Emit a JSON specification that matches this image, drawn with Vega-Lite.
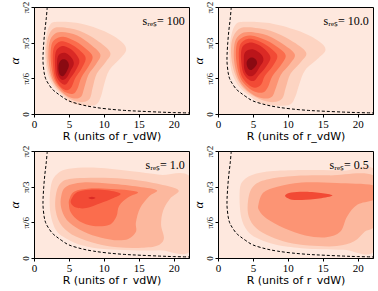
{
 "$schema": "https://vega.github.io/schema/vega-lite/v6.json",
 "padding": {"left": 7, "top": 0, "right": 0, "bottom": 0},
 "background": "white",
 "datasets": {"all": [
  {"p":"a","g":"c","l":1,"i":1,"x":1.7,"y":63},{"p":"a","g":"c","l":1,"i":2,"x":2.3,"y":75},{"p":"a","g":"c","l":1,"i":3,"x":3.5,"y":77.5},{"p":"a","g":"c","l":1,"i":4,"x":6.8,"y":76},{"p":"a","g":"c","l":1,"i":5,"x":10.1,"y":69.5},{"p":"a","g":"c","l":1,"i":6,"x":12.5,"y":61},{"p":"a","g":"c","l":1,"i":7,"x":13.2,"y":54},{"p":"a","g":"c","l":1,"i":8,"x":12.4,"y":47},{"p":"a","g":"c","l":1,"i":9,"x":10.8,"y":37},{"p":"a","g":"c","l":1,"i":10,"x":10.1,"y":26},{"p":"a","g":"c","l":1,"i":11,"x":9.6,"y":15},{"p":"a","g":"c","l":1,"i":12,"x":8.9,"y":8},{"p":"a","g":"c","l":1,"i":13,"x":7.2,"y":7},{"p":"a","g":"c","l":1,"i":14,"x":5.3,"y":9.5},{"p":"a","g":"c","l":1,"i":15,"x":4.1,"y":15.5},{"p":"a","g":"c","l":1,"i":16,"x":2.9,"y":22.5},{"p":"a","g":"c","l":1,"i":17,"x":2.0,"y":33},{"p":"a","g":"c","l":1,"i":18,"x":1.6,"y":48},
  {"p":"a","g":"c","l":2,"i":1,"x":1.9,"y":62},{"p":"a","g":"c","l":2,"i":2,"x":2.6,"y":71},{"p":"a","g":"c","l":2,"i":3,"x":3.8,"y":73},{"p":"a","g":"c","l":2,"i":4,"x":6.5,"y":70},{"p":"a","g":"c","l":2,"i":5,"x":9.0,"y":62},{"p":"a","g":"c","l":2,"i":6,"x":10.9,"y":52},{"p":"a","g":"c","l":2,"i":7,"x":10.3,"y":44},{"p":"a","g":"c","l":2,"i":8,"x":9.0,"y":34},{"p":"a","g":"c","l":2,"i":9,"x":8.4,"y":22},{"p":"a","g":"c","l":2,"i":10,"x":8.0,"y":13},{"p":"a","g":"c","l":2,"i":11,"x":7.0,"y":10},{"p":"a","g":"c","l":2,"i":12,"x":5.4,"y":12},{"p":"a","g":"c","l":2,"i":13,"x":4.1,"y":17},{"p":"a","g":"c","l":2,"i":14,"x":3.0,"y":24},{"p":"a","g":"c","l":2,"i":15,"x":2.2,"y":34},{"p":"a","g":"c","l":2,"i":16,"x":1.8,"y":48},
  {"p":"a","g":"c","l":3,"i":1,"x":2.2,"y":60},{"p":"a","g":"c","l":3,"i":2,"x":2.9,"y":67},{"p":"a","g":"c","l":3,"i":3,"x":4.0,"y":69},{"p":"a","g":"c","l":3,"i":4,"x":6.2,"y":66},{"p":"a","g":"c","l":3,"i":5,"x":8.2,"y":58},{"p":"a","g":"c","l":3,"i":6,"x":9.5,"y":50},{"p":"a","g":"c","l":3,"i":7,"x":8.9,"y":42},{"p":"a","g":"c","l":3,"i":8,"x":7.8,"y":33},{"p":"a","g":"c","l":3,"i":9,"x":7.2,"y":22},{"p":"a","g":"c","l":3,"i":10,"x":6.8,"y":15},{"p":"a","g":"c","l":3,"i":11,"x":6.0,"y":13},{"p":"a","g":"c","l":3,"i":12,"x":4.8,"y":15},{"p":"a","g":"c","l":3,"i":13,"x":3.6,"y":21},{"p":"a","g":"c","l":3,"i":14,"x":2.6,"y":30},{"p":"a","g":"c","l":3,"i":15,"x":2.1,"y":45},
  {"p":"a","g":"c","l":4,"i":1,"x":2.5,"y":58},{"p":"a","g":"c","l":4,"i":2,"x":3.1,"y":63},{"p":"a","g":"c","l":4,"i":3,"x":4.2,"y":65},{"p":"a","g":"c","l":4,"i":4,"x":6.0,"y":61},{"p":"a","g":"c","l":4,"i":5,"x":7.6,"y":54},{"p":"a","g":"c","l":4,"i":6,"x":8.4,"y":48},{"p":"a","g":"c","l":4,"i":7,"x":7.8,"y":40},{"p":"a","g":"c","l":4,"i":8,"x":6.8,"y":31},{"p":"a","g":"c","l":4,"i":9,"x":6.2,"y":21},{"p":"a","g":"c","l":4,"i":10,"x":5.6,"y":17},{"p":"a","g":"c","l":4,"i":11,"x":4.6,"y":18},{"p":"a","g":"c","l":4,"i":12,"x":3.6,"y":23},{"p":"a","g":"c","l":4,"i":13,"x":2.8,"y":31},{"p":"a","g":"c","l":4,"i":14,"x":2.4,"y":45},
  {"p":"a","g":"c","l":5,"i":1,"x":2.8,"y":55},{"p":"a","g":"c","l":5,"i":2,"x":3.4,"y":60},{"p":"a","g":"c","l":5,"i":3,"x":4.3,"y":61},{"p":"a","g":"c","l":5,"i":4,"x":5.8,"y":57},{"p":"a","g":"c","l":5,"i":5,"x":7.0,"y":51},{"p":"a","g":"c","l":5,"i":6,"x":7.4,"y":46},{"p":"a","g":"c","l":5,"i":7,"x":6.8,"y":38},{"p":"a","g":"c","l":5,"i":8,"x":5.9,"y":30},{"p":"a","g":"c","l":5,"i":9,"x":5.4,"y":23},{"p":"a","g":"c","l":5,"i":10,"x":4.7,"y":20},{"p":"a","g":"c","l":5,"i":11,"x":3.8,"y":23},{"p":"a","g":"c","l":5,"i":12,"x":3.0,"y":31},{"p":"a","g":"c","l":5,"i":13,"x":2.7,"y":44},
  {"p":"a","g":"c","l":6,"i":1,"x":3.1,"y":52},{"p":"a","g":"c","l":6,"i":2,"x":3.6,"y":56},{"p":"a","g":"c","l":6,"i":3,"x":4.4,"y":57},{"p":"a","g":"c","l":6,"i":4,"x":5.6,"y":53},{"p":"a","g":"c","l":6,"i":5,"x":6.5,"y":45},{"p":"a","g":"c","l":6,"i":6,"x":6.0,"y":37},{"p":"a","g":"c","l":6,"i":7,"x":5.2,"y":30},{"p":"a","g":"c","l":6,"i":8,"x":4.6,"y":25},{"p":"a","g":"c","l":6,"i":9,"x":3.9,"y":26},{"p":"a","g":"c","l":6,"i":10,"x":3.2,"y":32},{"p":"a","g":"c","l":6,"i":11,"x":3.0,"y":43},
  {"p":"a","g":"c","l":7,"i":1,"x":3.4,"y":48},{"p":"a","g":"c","l":7,"i":2,"x":3.9,"y":51},{"p":"a","g":"c","l":7,"i":3,"x":4.6,"y":51},{"p":"a","g":"c","l":7,"i":4,"x":5.4,"y":47},{"p":"a","g":"c","l":7,"i":5,"x":5.7,"y":42},{"p":"a","g":"c","l":7,"i":6,"x":5.2,"y":36},{"p":"a","g":"c","l":7,"i":7,"x":4.6,"y":30},{"p":"a","g":"c","l":7,"i":8,"x":3.9,"y":29},{"p":"a","g":"c","l":7,"i":9,"x":3.4,"y":34},{"p":"a","g":"c","l":7,"i":10,"x":3.3,"y":42},
  {"p":"a","g":"c","l":8,"i":1,"x":3.6,"y":43},{"p":"a","g":"c","l":8,"i":2,"x":4.1,"y":46},{"p":"a","g":"c","l":8,"i":3,"x":4.7,"y":45},{"p":"a","g":"c","l":8,"i":4,"x":5.0,"y":41},{"p":"a","g":"c","l":8,"i":5,"x":4.7,"y":36},{"p":"a","g":"c","l":8,"i":6,"x":4.2,"y":32},{"p":"a","g":"c","l":8,"i":7,"x":3.7,"y":33},{"p":"a","g":"c","l":8,"i":8,"x":3.5,"y":38},

  {"p":"b","g":"c","l":1,"i":1,"x":1.8,"y":63},{"p":"b","g":"c","l":1,"i":2,"x":2.5,"y":75},{"p":"b","g":"c","l":1,"i":3,"x":3.9,"y":77.5},{"p":"b","g":"c","l":1,"i":4,"x":7.8,"y":76},{"p":"b","g":"c","l":1,"i":5,"x":11.7,"y":69.5},{"p":"b","g":"c","l":1,"i":6,"x":14.5,"y":61},{"p":"b","g":"c","l":1,"i":7,"x":15.4,"y":54},{"p":"b","g":"c","l":1,"i":8,"x":14.4,"y":47},{"p":"b","g":"c","l":1,"i":9,"x":12.5,"y":37},{"p":"b","g":"c","l":1,"i":10,"x":11.7,"y":26},{"p":"b","g":"c","l":1,"i":11,"x":11.1,"y":15},{"p":"b","g":"c","l":1,"i":12,"x":10.3,"y":8},{"p":"b","g":"c","l":1,"i":13,"x":8.3,"y":7},{"p":"b","g":"c","l":1,"i":14,"x":6.0,"y":9.5},{"p":"b","g":"c","l":1,"i":15,"x":4.5,"y":15.5},{"p":"b","g":"c","l":1,"i":16,"x":3.1,"y":22.5},{"p":"b","g":"c","l":1,"i":17,"x":2.1,"y":33},{"p":"b","g":"c","l":1,"i":18,"x":1.65,"y":48},
  {"p":"b","g":"c","l":2,"i":1,"x":2.0,"y":62},{"p":"b","g":"c","l":2,"i":2,"x":2.9,"y":71},{"p":"b","g":"c","l":2,"i":3,"x":4.3,"y":73},{"p":"b","g":"c","l":2,"i":4,"x":7.5,"y":70},{"p":"b","g":"c","l":2,"i":5,"x":10.4,"y":62},{"p":"b","g":"c","l":2,"i":6,"x":12.6,"y":52},{"p":"b","g":"c","l":2,"i":7,"x":11.9,"y":44},{"p":"b","g":"c","l":2,"i":8,"x":10.4,"y":34},{"p":"b","g":"c","l":2,"i":9,"x":9.7,"y":22},{"p":"b","g":"c","l":2,"i":10,"x":9.2,"y":13},{"p":"b","g":"c","l":2,"i":11,"x":8.0,"y":10},{"p":"b","g":"c","l":2,"i":12,"x":6.2,"y":12},{"p":"b","g":"c","l":2,"i":13,"x":4.6,"y":17},{"p":"b","g":"c","l":2,"i":14,"x":3.3,"y":24},{"p":"b","g":"c","l":2,"i":15,"x":2.4,"y":34},{"p":"b","g":"c","l":2,"i":16,"x":1.9,"y":48},
  {"p":"b","g":"c","l":3,"i":1,"x":2.4,"y":60},{"p":"b","g":"c","l":3,"i":2,"x":3.2,"y":67},{"p":"b","g":"c","l":3,"i":3,"x":4.5,"y":69},{"p":"b","g":"c","l":3,"i":4,"x":7.1,"y":66},{"p":"b","g":"c","l":3,"i":5,"x":9.5,"y":58},{"p":"b","g":"c","l":3,"i":6,"x":11.0,"y":50},{"p":"b","g":"c","l":3,"i":7,"x":10.3,"y":42},{"p":"b","g":"c","l":3,"i":8,"x":9.0,"y":33},{"p":"b","g":"c","l":3,"i":9,"x":8.3,"y":22},{"p":"b","g":"c","l":3,"i":10,"x":7.8,"y":15},{"p":"b","g":"c","l":3,"i":11,"x":6.9,"y":13},{"p":"b","g":"c","l":3,"i":12,"x":5.4,"y":15},{"p":"b","g":"c","l":3,"i":13,"x":4.0,"y":21},{"p":"b","g":"c","l":3,"i":14,"x":2.9,"y":30},{"p":"b","g":"c","l":3,"i":15,"x":2.3,"y":45},
  {"p":"b","g":"c","l":4,"i":1,"x":2.7,"y":59},{"p":"b","g":"c","l":4,"i":2,"x":3.4,"y":64},{"p":"b","g":"c","l":4,"i":3,"x":4.7,"y":66},{"p":"b","g":"c","l":4,"i":4,"x":6.9,"y":62},{"p":"b","g":"c","l":4,"i":5,"x":8.8,"y":55},{"p":"b","g":"c","l":4,"i":6,"x":9.7,"y":49},{"p":"b","g":"c","l":4,"i":7,"x":9.0,"y":41},{"p":"b","g":"c","l":4,"i":8,"x":7.8,"y":32},{"p":"b","g":"c","l":4,"i":9,"x":7.1,"y":22},{"p":"b","g":"c","l":4,"i":10,"x":6.4,"y":18},{"p":"b","g":"c","l":4,"i":11,"x":5.2,"y":19},{"p":"b","g":"c","l":4,"i":12,"x":4.0,"y":24},{"p":"b","g":"c","l":4,"i":13,"x":3.1,"y":32},{"p":"b","g":"c","l":4,"i":14,"x":2.6,"y":46},
  {"p":"b","g":"c","l":5,"i":1,"x":3.1,"y":57},{"p":"b","g":"c","l":5,"i":2,"x":3.8,"y":62},{"p":"b","g":"c","l":5,"i":3,"x":4.9,"y":63},{"p":"b","g":"c","l":5,"i":4,"x":6.6,"y":59},{"p":"b","g":"c","l":5,"i":5,"x":8.0,"y":53},{"p":"b","g":"c","l":5,"i":6,"x":8.5,"y":48},{"p":"b","g":"c","l":5,"i":7,"x":7.8,"y":40},{"p":"b","g":"c","l":5,"i":8,"x":6.7,"y":32},{"p":"b","g":"c","l":5,"i":9,"x":6.2,"y":25},{"p":"b","g":"c","l":5,"i":10,"x":5.3,"y":22},{"p":"b","g":"c","l":5,"i":11,"x":4.3,"y":25},{"p":"b","g":"c","l":5,"i":12,"x":3.3,"y":33},{"p":"b","g":"c","l":5,"i":13,"x":3.0,"y":46},
  {"p":"b","g":"c","l":6,"i":1,"x":3.4,"y":55},{"p":"b","g":"c","l":6,"i":2,"x":4.0,"y":59},{"p":"b","g":"c","l":6,"i":3,"x":5.0,"y":60},{"p":"b","g":"c","l":6,"i":4,"x":6.4,"y":56},{"p":"b","g":"c","l":6,"i":5,"x":7.5,"y":48},{"p":"b","g":"c","l":6,"i":6,"x":6.9,"y":40},{"p":"b","g":"c","l":6,"i":7,"x":5.9,"y":33},{"p":"b","g":"c","l":6,"i":8,"x":5.2,"y":28},{"p":"b","g":"c","l":6,"i":9,"x":4.4,"y":29},{"p":"b","g":"c","l":6,"i":10,"x":3.6,"y":35},{"p":"b","g":"c","l":6,"i":11,"x":3.3,"y":46},
  {"p":"b","g":"c","l":7,"i":1,"x":3.8,"y":51},{"p":"b","g":"c","l":7,"i":2,"x":4.4,"y":54},{"p":"b","g":"c","l":7,"i":3,"x":5.2,"y":54},{"p":"b","g":"c","l":7,"i":4,"x":6.2,"y":50},{"p":"b","g":"c","l":7,"i":5,"x":6.5,"y":45},{"p":"b","g":"c","l":7,"i":6,"x":5.9,"y":39},{"p":"b","g":"c","l":7,"i":7,"x":5.2,"y":33},{"p":"b","g":"c","l":7,"i":8,"x":4.4,"y":32},{"p":"b","g":"c","l":7,"i":9,"x":3.8,"y":37},{"p":"b","g":"c","l":7,"i":10,"x":3.7,"y":45},
  {"p":"b","g":"c","l":8,"i":1,"x":4.2,"y":45},{"p":"b","g":"c","l":8,"i":2,"x":4.7,"y":47.5},{"p":"b","g":"c","l":8,"i":3,"x":5.3,"y":46.5},{"p":"b","g":"c","l":8,"i":4,"x":5.6,"y":43},{"p":"b","g":"c","l":8,"i":5,"x":5.2,"y":39},{"p":"b","g":"c","l":8,"i":6,"x":4.7,"y":37},{"p":"b","g":"c","l":8,"i":7,"x":4.3,"y":38.5},{"p":"b","g":"c","l":8,"i":8,"x":4.1,"y":42},

  {"p":"c","g":"c","l":1,"i":1,"x":2.4,"y":60},{"p":"c","g":"c","l":1,"i":2,"x":3.2,"y":70},{"p":"c","g":"c","l":1,"i":3,"x":5,"y":75},{"p":"c","g":"c","l":1,"i":4,"x":9,"y":76},{"p":"c","g":"c","l":1,"i":5,"x":14,"y":73},{"p":"c","g":"c","l":1,"i":6,"x":18,"y":70},{"p":"c","g":"c","l":1,"i":7,"x":22.6,"y":66},{"p":"c","g":"c","l":1,"i":8,"x":22.6,"y":8},{"p":"c","g":"c","l":1,"i":9,"x":18,"y":6.5},{"p":"c","g":"c","l":1,"i":10,"x":14,"y":6.5},{"p":"c","g":"c","l":1,"i":11,"x":10,"y":7.5},{"p":"c","g":"c","l":1,"i":12,"x":7,"y":10.5},{"p":"c","g":"c","l":1,"i":13,"x":4.6,"y":16.5},{"p":"c","g":"c","l":1,"i":14,"x":3.1,"y":24},{"p":"c","g":"c","l":1,"i":15,"x":2.3,"y":40},
  {"p":"c","g":"c","l":2,"i":1,"x":3.2,"y":55},{"p":"c","g":"c","l":2,"i":2,"x":4.0,"y":64},{"p":"c","g":"c","l":2,"i":3,"x":6,"y":67},{"p":"c","g":"c","l":2,"i":4,"x":10,"y":67.5},{"p":"c","g":"c","l":2,"i":5,"x":14,"y":66},{"p":"c","g":"c","l":2,"i":6,"x":18,"y":62},{"p":"c","g":"c","l":2,"i":7,"x":20.7,"y":57},{"p":"c","g":"c","l":2,"i":8,"x":19.5,"y":50},{"p":"c","g":"c","l":2,"i":9,"x":18.5,"y":40},{"p":"c","g":"c","l":2,"i":10,"x":18.2,"y":28},{"p":"c","g":"c","l":2,"i":11,"x":18.6,"y":16},{"p":"c","g":"c","l":2,"i":12,"x":17.5,"y":10},{"p":"c","g":"c","l":2,"i":13,"x":15,"y":8.5},{"p":"c","g":"c","l":2,"i":14,"x":12,"y":9},{"p":"c","g":"c","l":2,"i":15,"x":9,"y":12},{"p":"c","g":"c","l":2,"i":16,"x":6,"y":18},{"p":"c","g":"c","l":2,"i":17,"x":4,"y":27},{"p":"c","g":"c","l":2,"i":18,"x":3.1,"y":40},
  {"p":"c","g":"c","l":3,"i":1,"x":3.9,"y":52},{"p":"c","g":"c","l":3,"i":2,"x":4.6,"y":60},{"p":"c","g":"c","l":3,"i":3,"x":7,"y":63.5},{"p":"c","g":"c","l":3,"i":4,"x":11,"y":62.5},{"p":"c","g":"c","l":3,"i":5,"x":15,"y":60},{"p":"c","g":"c","l":3,"i":6,"x":17.6,"y":57},{"p":"c","g":"c","l":3,"i":7,"x":16.5,"y":52},{"p":"c","g":"c","l":3,"i":8,"x":15.2,"y":42},{"p":"c","g":"c","l":3,"i":9,"x":14.6,"y":30},{"p":"c","g":"c","l":3,"i":10,"x":14.6,"y":22},{"p":"c","g":"c","l":3,"i":11,"x":13.5,"y":16},{"p":"c","g":"c","l":3,"i":12,"x":11.5,"y":15},{"p":"c","g":"c","l":3,"i":13,"x":9,"y":18},{"p":"c","g":"c","l":3,"i":14,"x":6.5,"y":24},{"p":"c","g":"c","l":3,"i":15,"x":4.7,"y":32},{"p":"c","g":"c","l":3,"i":16,"x":3.9,"y":42},
  {"p":"c","g":"c","l":4,"i":1,"x":5.1,"y":50},{"p":"c","g":"c","l":4,"i":2,"x":5.8,"y":56},{"p":"c","g":"c","l":4,"i":3,"x":8,"y":58.5},{"p":"c","g":"c","l":4,"i":4,"x":11,"y":58},{"p":"c","g":"c","l":4,"i":5,"x":13.5,"y":57},{"p":"c","g":"c","l":4,"i":6,"x":14.9,"y":55},{"p":"c","g":"c","l":4,"i":7,"x":13.5,"y":51},{"p":"c","g":"c","l":4,"i":8,"x":12.2,"y":44},{"p":"c","g":"c","l":4,"i":9,"x":11.8,"y":35},{"p":"c","g":"c","l":4,"i":10,"x":10.8,"y":28},{"p":"c","g":"c","l":4,"i":11,"x":8.5,"y":27},{"p":"c","g":"c","l":4,"i":12,"x":6.5,"y":31},{"p":"c","g":"c","l":4,"i":13,"x":5.3,"y":38},{"p":"c","g":"c","l":4,"i":14,"x":5.0,"y":45},
  {"p":"c","g":"c","l":5,"i":1,"x":5.4,"y":50},{"p":"c","g":"c","l":5,"i":2,"x":6.2,"y":55.5},{"p":"c","g":"c","l":5,"i":3,"x":8,"y":57.5},{"p":"c","g":"c","l":5,"i":4,"x":10.5,"y":57},{"p":"c","g":"c","l":5,"i":5,"x":12.4,"y":54},{"p":"c","g":"c","l":5,"i":6,"x":11.2,"y":50},{"p":"c","g":"c","l":5,"i":7,"x":9.5,"y":46},{"p":"c","g":"c","l":5,"i":8,"x":7.5,"y":42},{"p":"c","g":"c","l":5,"i":9,"x":6,"y":42.5},{"p":"c","g":"c","l":5,"i":10,"x":5.3,"y":46},
  {"p":"c","g":"c","l":6,"i":1,"x":7.8,"y":50.5},{"p":"c","g":"c","l":6,"i":2,"x":8.3,"y":51.5},{"p":"c","g":"c","l":6,"i":3,"x":8.8,"y":50.5},{"p":"c","g":"c","l":6,"i":4,"x":8.3,"y":49.5},

  {"p":"d","g":"c","l":1,"i":1,"x":3.1,"y":55},{"p":"d","g":"c","l":1,"i":2,"x":3.6,"y":65},{"p":"d","g":"c","l":1,"i":3,"x":5.5,"y":71},{"p":"d","g":"c","l":1,"i":4,"x":9,"y":73.5},{"p":"d","g":"c","l":1,"i":5,"x":14,"y":74},{"p":"d","g":"c","l":1,"i":6,"x":18,"y":73.5},{"p":"d","g":"c","l":1,"i":7,"x":22.6,"y":72},{"p":"d","g":"c","l":1,"i":8,"x":22.6,"y":8},{"p":"d","g":"c","l":1,"i":9,"x":18,"y":7},{"p":"d","g":"c","l":1,"i":10,"x":14,"y":7.5},{"p":"d","g":"c","l":1,"i":11,"x":10,"y":9.5},{"p":"d","g":"c","l":1,"i":12,"x":7.5,"y":12.5},{"p":"d","g":"c","l":1,"i":13,"x":5.5,"y":17},{"p":"d","g":"c","l":1,"i":14,"x":4.2,"y":23},{"p":"d","g":"c","l":1,"i":15,"x":3.3,"y":35},
  {"p":"d","g":"c","l":2,"i":1,"x":4.3,"y":48},{"p":"d","g":"c","l":2,"i":2,"x":5,"y":60},{"p":"d","g":"c","l":2,"i":3,"x":7,"y":66},{"p":"d","g":"c","l":2,"i":4,"x":11,"y":69},{"p":"d","g":"c","l":2,"i":5,"x":16,"y":69.5},{"p":"d","g":"c","l":2,"i":6,"x":22.6,"y":68},{"p":"d","g":"c","l":2,"i":7,"x":22.6,"y":30},{"p":"d","g":"c","l":2,"i":8,"x":21,"y":22},{"p":"d","g":"c","l":2,"i":9,"x":19.5,"y":14},{"p":"d","g":"c","l":2,"i":10,"x":17,"y":10},{"p":"d","g":"c","l":2,"i":11,"x":13,"y":10.5},{"p":"d","g":"c","l":2,"i":12,"x":10,"y":13},{"p":"d","g":"c","l":2,"i":13,"x":7.5,"y":18},{"p":"d","g":"c","l":2,"i":14,"x":5.5,"y":25},{"p":"d","g":"c","l":2,"i":15,"x":4.4,"y":35},
  {"p":"d","g":"c","l":3,"i":1,"x":5.8,"y":45},{"p":"d","g":"c","l":3,"i":2,"x":6.5,"y":55},{"p":"d","g":"c","l":3,"i":3,"x":8.5,"y":60},{"p":"d","g":"c","l":3,"i":4,"x":12,"y":63.5},{"p":"d","g":"c","l":3,"i":5,"x":17,"y":63},{"p":"d","g":"c","l":3,"i":6,"x":22.6,"y":60.5},{"p":"d","g":"c","l":3,"i":7,"x":22.6,"y":50},{"p":"d","g":"c","l":3,"i":8,"x":20,"y":45},{"p":"d","g":"c","l":3,"i":9,"x":18.5,"y":35},{"p":"d","g":"c","l":3,"i":10,"x":17.5,"y":22},{"p":"d","g":"c","l":3,"i":11,"x":15.5,"y":17.5},{"p":"d","g":"c","l":3,"i":12,"x":12.5,"y":19},{"p":"d","g":"c","l":3,"i":13,"x":9.5,"y":25},{"p":"d","g":"c","l":3,"i":14,"x":7,"y":33},{"p":"d","g":"c","l":3,"i":15,"x":5.9,"y":40},
  {"p":"d","g":"c","l":5,"i":1,"x":9.6,"y":52.5},{"p":"d","g":"c","l":5,"i":2,"x":10.5,"y":55},{"p":"d","g":"c","l":5,"i":3,"x":12.5,"y":55.8},{"p":"d","g":"c","l":5,"i":4,"x":15,"y":54.5},{"p":"d","g":"c","l":5,"i":5,"x":16.4,"y":52.5},{"p":"d","g":"c","l":5,"i":6,"x":14.5,"y":50},{"p":"d","g":"c","l":5,"i":7,"x":12,"y":48.7},{"p":"d","g":"c","l":5,"i":8,"x":10.3,"y":49.5},

  {"p":"a","g":"d","i":1,"x":1.9,"y":90},{"p":"a","g":"d","i":2,"x":1.75,"y":80},{"p":"a","g":"d","i":3,"x":1.55,"y":70},{"p":"a","g":"d","i":4,"x":1.4,"y":60},{"p":"a","g":"d","i":5,"x":1.3,"y":50},{"p":"a","g":"d","i":6,"x":1.3,"y":43},{"p":"a","g":"d","i":7,"x":1.45,"y":35},{"p":"a","g":"d","i":8,"x":1.65,"y":30},{"p":"a","g":"d","i":9,"x":2.0,"y":26},{"p":"a","g":"d","i":10,"x":2.6,"y":21},{"p":"a","g":"d","i":11,"x":3.2,"y":18},{"p":"a","g":"d","i":12,"x":3.9,"y":15},{"p":"a","g":"d","i":13,"x":5.0,"y":11},{"p":"a","g":"d","i":14,"x":6.8,"y":7.8},{"p":"a","g":"d","i":15,"x":8.5,"y":5.8},{"p":"a","g":"d","i":16,"x":10.6,"y":4.2},{"p":"a","g":"d","i":17,"x":13,"y":3},{"p":"a","g":"d","i":18,"x":15.3,"y":2.3},{"p":"a","g":"d","i":19,"x":18,"y":1.6},{"p":"a","g":"d","i":20,"x":20,"y":1.2},{"p":"a","g":"d","i":21,"x":22.2,"y":0.9},

  {"p":"a","g":"t","x":21.6,"y":78,"t":"sᵣₑₛ= 100"},
  {"p":"b","g":"t","x":21.6,"y":78,"t":"sᵣₑₛ= 10.0"},
  {"p":"c","g":"t","x":21.6,"y":78,"t":"sᵣₑₛ= 1.0"},
  {"p":"d","g":"t","x":21.6,"y":78,"t":"sᵣₑₛ= 0.5"}
 ]},
 "columns": 2,
 "spacing": {"row": 2, "column": 1},
 "concat": [
  {"data": {"name": "all"}, "transform": [{"filter": "datum.p == 'a' || datum.g == 'd'"}], "width": 155, "height": 107,
   "encoding": {
    "x": {"field": "x", "type": "quantitative", "scale": {"domain": [0, 22.2], "nice": false, "zero": false}, "axis": {"values": [0, 5, 10, 15, 20], "title": "R (units of r_vdW)", "grid": false, "tickSize": 3, "labelPadding": 1, "titlePadding": 1, "labelOverlap": false, "labelFlush": false}},
    "y": {"field": "y", "type": "quantitative", "scale": {"domain": [0, 90], "nice": false, "zero": false}, "axis": {"values": [0, 30, 60, 90], "labelExpr": "datum.value == 0 ? '0' : datum.value == 30 ? 'π/6' : datum.value == 60 ? 'π/3' : 'π/2'", "labelAngle": -90, "labelFontSize": 9, "labelOverlap": false, "labelFlush": false, "title": "α", "titleFont": "Liberation Serif", "titleFontStyle": "italic", "titleFontSize": 13, "grid": false, "tickSize": 3, "labelPadding": 1, "titlePadding": 0}}
   },
   "layer": [
    {"transform": [{"filter": "datum.p == 'a' && datum.g == 'c'"}], "mark": {"type": "line", "interpolate": "cardinal-closed", "strokeWidth": 0, "clip": true},
     "encoding": {"fill": {"field": "l", "type": "ordinal", "scale": {"domain": [1, 2, 3, 4, 5, 6, 7, 8], "range": ["#fdd4c2", "#fcb89e", "#fc9474", "#fb6d4d", "#f24a35", "#db2a25", "#bb151a", "#8a0a12"]}, "legend": null}, "detail": {"field": "l"}, "order": {"field": "i", "type": "quantitative"}}},
    {"transform": [{"filter": "datum.g == 'd'"}], "mark": {"type": "line", "interpolate": "cardinal", "stroke": "black", "strokeWidth": 1, "strokeDash": [3, 2], "clip": true},
     "encoding": {"order": {"field": "i", "type": "quantitative"}}},
    {"transform": [{"filter": "datum.p == 'a' && datum.g == 't'"}], "mark": {"type": "text", "align": "right", "baseline": "middle", "font": "Liberation Serif", "fontSize": 12, "color": "black"},
     "encoding": {"text": {"field": "t"}}}
   ]},
  {"data": {"name": "all"}, "transform": [{"filter": "datum.p == 'b' || datum.g == 'd'"}], "width": 155, "height": 107,
   "encoding": {
    "x": {"field": "x", "type": "quantitative", "scale": {"domain": [0, 22.2], "nice": false, "zero": false}, "axis": {"values": [0, 5, 10, 15, 20], "title": "R (units of r_vdW)", "grid": false, "tickSize": 3, "labelPadding": 1, "titlePadding": 1, "labelOverlap": false, "labelFlush": false}},
    "y": {"field": "y", "type": "quantitative", "scale": {"domain": [0, 90], "nice": false, "zero": false}, "axis": {"values": [0, 30, 60, 90], "labelExpr": "datum.value == 0 ? '0' : datum.value == 30 ? 'π/6' : datum.value == 60 ? 'π/3' : 'π/2'", "labelAngle": -90, "labelFontSize": 9, "labelOverlap": false, "labelFlush": false, "title": "α", "titleFont": "Liberation Serif", "titleFontStyle": "italic", "titleFontSize": 13, "grid": false, "tickSize": 3, "labelPadding": 1, "titlePadding": 0}}
   },
   "layer": [
    {"transform": [{"filter": "datum.p == 'b' && datum.g == 'c'"}], "mark": {"type": "line", "interpolate": "cardinal-closed", "strokeWidth": 0, "clip": true},
     "encoding": {"fill": {"field": "l", "type": "ordinal", "scale": {"domain": [1, 2, 3, 4, 5, 6, 7, 8], "range": ["#fdd4c2", "#fcb89e", "#fc9474", "#fb6d4d", "#f24a35", "#db2a25", "#bb151a", "#8a0a12"]}, "legend": null}, "detail": {"field": "l"}, "order": {"field": "i", "type": "quantitative"}}},
    {"transform": [{"filter": "datum.g == 'd'"}], "mark": {"type": "line", "interpolate": "cardinal", "stroke": "black", "strokeWidth": 1, "strokeDash": [3, 2], "clip": true},
     "encoding": {"order": {"field": "i", "type": "quantitative"}}},
    {"transform": [{"filter": "datum.p == 'b' && datum.g == 't'"}], "mark": {"type": "text", "align": "right", "baseline": "middle", "font": "Liberation Serif", "fontSize": 12, "color": "black"},
     "encoding": {"text": {"field": "t"}}}
   ]},
  {"data": {"name": "all"}, "transform": [{"filter": "datum.p == 'c' || datum.g == 'd'"}], "width": 155, "height": 107,
   "encoding": {
    "x": {"field": "x", "type": "quantitative", "scale": {"domain": [0, 22.2], "nice": false, "zero": false}, "axis": {"values": [0, 5, 10, 15, 20], "title": "R (units of r_vdW)", "grid": false, "tickSize": 3, "labelPadding": 1, "titlePadding": 1, "labelOverlap": false, "labelFlush": false}},
    "y": {"field": "y", "type": "quantitative", "scale": {"domain": [0, 90], "nice": false, "zero": false}, "axis": {"values": [0, 30, 60, 90], "labelExpr": "datum.value == 0 ? '0' : datum.value == 30 ? 'π/6' : datum.value == 60 ? 'π/3' : 'π/2'", "labelAngle": -90, "labelFontSize": 9, "labelOverlap": false, "labelFlush": false, "title": "α", "titleFont": "Liberation Serif", "titleFontStyle": "italic", "titleFontSize": 13, "grid": false, "tickSize": 3, "labelPadding": 1, "titlePadding": 0}}
   },
   "layer": [
    {"transform": [{"filter": "datum.p == 'c' && datum.g == 'c'"}], "mark": {"type": "line", "interpolate": "cardinal-closed", "strokeWidth": 0, "clip": true},
     "encoding": {"fill": {"field": "l", "type": "ordinal", "scale": {"domain": [1, 2, 3, 4, 5, 6, 7, 8], "range": ["#fdd4c2", "#fcb89e", "#fc9474", "#fb6d4d", "#f24a35", "#db2a25", "#bb151a", "#8a0a12"]}, "legend": null}, "detail": {"field": "l"}, "order": {"field": "i", "type": "quantitative"}}},
    {"transform": [{"filter": "datum.g == 'd'"}], "mark": {"type": "line", "interpolate": "cardinal", "stroke": "black", "strokeWidth": 1, "strokeDash": [3, 2], "clip": true},
     "encoding": {"order": {"field": "i", "type": "quantitative"}}},
    {"transform": [{"filter": "datum.p == 'c' && datum.g == 't'"}], "mark": {"type": "text", "align": "right", "baseline": "middle", "font": "Liberation Serif", "fontSize": 12, "color": "black"},
     "encoding": {"text": {"field": "t"}}}
   ]},
  {"data": {"name": "all"}, "transform": [{"filter": "datum.p == 'd' || datum.g == 'd'"}], "width": 155, "height": 107,
   "encoding": {
    "x": {"field": "x", "type": "quantitative", "scale": {"domain": [0, 22.2], "nice": false, "zero": false}, "axis": {"values": [0, 5, 10, 15, 20], "title": "R (units of r_vdW)", "grid": false, "tickSize": 3, "labelPadding": 1, "titlePadding": 1, "labelOverlap": false, "labelFlush": false}},
    "y": {"field": "y", "type": "quantitative", "scale": {"domain": [0, 90], "nice": false, "zero": false}, "axis": {"values": [0, 30, 60, 90], "labelExpr": "datum.value == 0 ? '0' : datum.value == 30 ? 'π/6' : datum.value == 60 ? 'π/3' : 'π/2'", "labelAngle": -90, "labelFontSize": 9, "labelOverlap": false, "labelFlush": false, "title": "α", "titleFont": "Liberation Serif", "titleFontStyle": "italic", "titleFontSize": 13, "grid": false, "tickSize": 3, "labelPadding": 1, "titlePadding": 0}}
   },
   "layer": [
    {"transform": [{"filter": "datum.p == 'd' && datum.g == 'c'"}], "mark": {"type": "line", "interpolate": "cardinal-closed", "strokeWidth": 0, "clip": true},
     "encoding": {"fill": {"field": "l", "type": "ordinal", "scale": {"domain": [1, 2, 3, 4, 5, 6, 7, 8], "range": ["#fdd4c2", "#fcb89e", "#fc9474", "#fb6d4d", "#f24a35", "#db2a25", "#bb151a", "#8a0a12"]}, "legend": null}, "detail": {"field": "l"}, "order": {"field": "i", "type": "quantitative"}}},
    {"transform": [{"filter": "datum.g == 'd'"}], "mark": {"type": "line", "interpolate": "cardinal", "stroke": "black", "strokeWidth": 1, "strokeDash": [3, 2], "clip": true},
     "encoding": {"order": {"field": "i", "type": "quantitative"}}},
    {"transform": [{"filter": "datum.p == 'd' && datum.g == 't'"}], "mark": {"type": "text", "align": "right", "baseline": "middle", "font": "Liberation Serif", "fontSize": 12, "color": "black"},
     "encoding": {"text": {"field": "t"}}}
   ]}
 ],
 "config": {
  "view": {"fill": "#fee8de", "stroke": "black", "strokeWidth": 1},
  "axis": {"domainColor": "black", "tickColor": "black", "labelColor": "black", "titleColor": "black", "labelFont": "Liberation Serif", "labelFontSize": 11, "titleFont": "DejaVu Sans", "titleFontSize": 11, "titleFontWeight": "normal"}
 }
}
